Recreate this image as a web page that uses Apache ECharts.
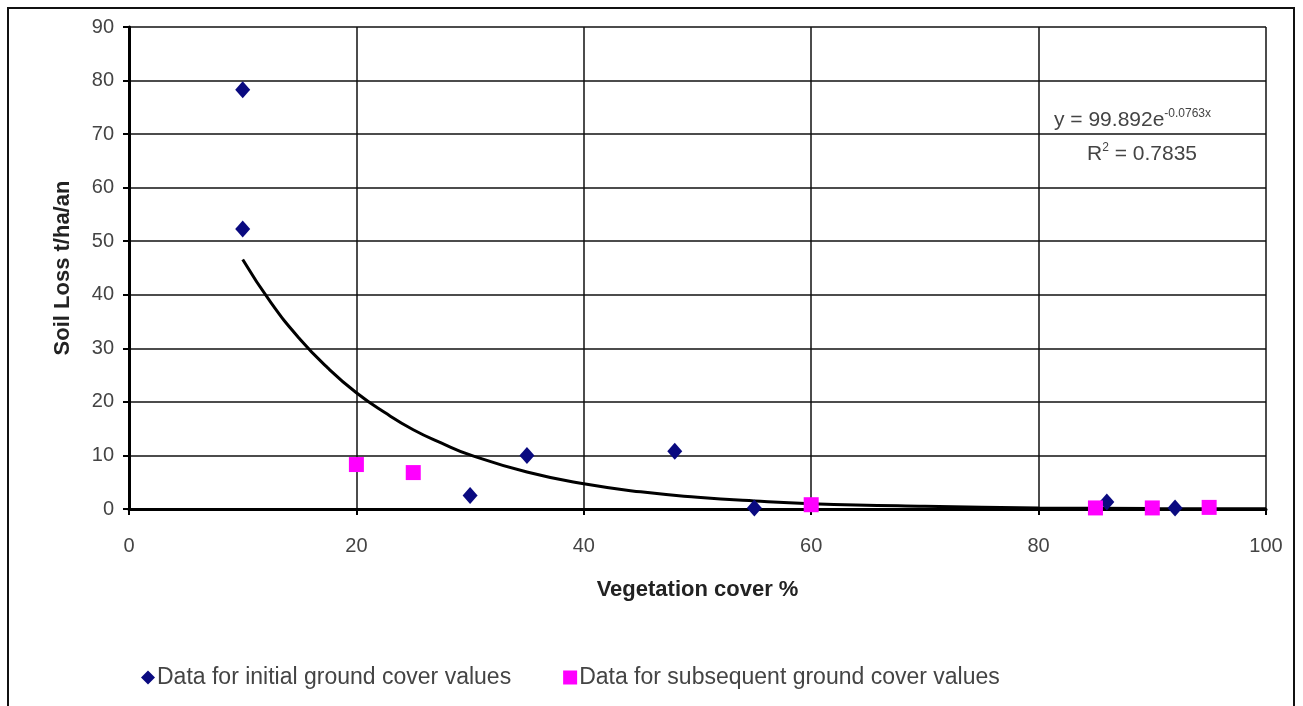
<!DOCTYPE html>
<html>
<head>
<meta charset="utf-8">
<script src="https://cdn.jsdelivr.net/npm/echarts@6/dist/echarts.min.js"></script>
<style>
  * { margin: 0; padding: 0; }
  html, body { width: 100%; height: 100%; background: #fff; }
  #main { width: 1303px; height: 706px; }
</style>
</head>
<body>
<div id="main"></div>
<script>
// values
var initialX = [10, 10, 30, 35, 48, 55, 86, 92];
var initialY = [78.3, 52.3, 2.5, 10, 10.8, 0.2, 1.3, 0.2];
var subsequentX = [20, 25, 60, 85, 90, 95];
var subsequentY = [8.3, 6.8, 0.8, 0.2, 0.2, 0.3];
// exponential trend line
var trendX = [10, 12.5, 15, 17.5, 20, 22.5, 25, 27.5, 30, 35, 40, 45, 50, 55, 60, 70, 80, 90, 100];
var trendY = [46.6, 38.5, 31.8, 26.3, 21.7, 18, 14.8, 12.3, 10.1, 6.9, 4.7, 3.2, 2.2, 1.5, 1.0, 0.5, 0.2, 0.1, 0.05];
var xTicks = [0, 20, 40, 60, 80, 100];
var yTicks = [0, 10, 20, 30, 40, 50, 60, 70, 80, 90];

function pairs(xs, ys) {
    var res = [];
    for (var i = 0; i < xs.length; i++) res.push([xs[i], ys[i]]);
    return res;
}

var myChart = echarts.init(document.getElementById('main'));
var fam = 'Arial, "Liberation Sans", sans-serif';

var option = {
    backgroundColor: '#fff',
    animation: false,
    grid: { left: 129, right: 37, top: 27, bottom: 197, containLabel: false },
    xAxis: {
        type: 'value',
        min: xTicks[0], max: xTicks[xTicks.length - 1], interval: 20,
        name: 'Vegetation cover %',
        nameLocation: 'middle',
        nameGap: 70,
        nameTextStyle: { color: '#222', fontFamily: fam, fontSize: 22, fontWeight: 'bold' },
        axisLine: { lineStyle: { color: '#000', width: 3 } },
        axisTick: { show: true, length: 6, lineStyle: { color: '#000', width: 2 } },
        axisLabel: { color: '#444', fontFamily: fam, fontSize: 20, margin: 27 },
        splitLine: { show: true, lineStyle: { color: '#111', width: 1.5 } }
    },
    yAxis: {
        type: 'value',
        min: yTicks[0], max: yTicks[yTicks.length - 1], interval: 10,
        name: 'Soil Loss t/ha/an',
        nameLocation: 'middle',
        nameGap: 55,
        nameRotate: 90,
        nameTextStyle: { color: '#222', fontFamily: fam, fontSize: 22, fontWeight: 'bold' },
        axisLine: { show: true, lineStyle: { color: '#000', width: 3 } },
        axisTick: { show: true, length: 6, lineStyle: { color: '#000', width: 2 } },
        axisLabel: { color: '#444', fontFamily: fam, fontSize: 20, margin: 15 },
        splitLine: { show: true, lineStyle: { color: '#111', width: 1.5 } }
    },
    legend: {
        left: 136,
        top: 661,
        itemGap: 52,
        itemWidth: 14,
        itemHeight: 14,
        textStyle: { color: '#444', fontFamily: fam, fontSize: 23, padding: [0, 0, 0, -3] },
        data: [
            { name: 'Data for initial ground cover values', icon: 'diamond' },
            { name: 'Data for subsequent ground cover values', icon: 'rect' }
        ]
    },
    series: [
        {
            name: 'Exponential trend',
            type: 'line',
            data: pairs(trendX, trendY),
            smooth: true,
            showSymbol: false,
            lineStyle: { color: '#000', width: 3 },
            z: 3
        },
        {
            name: 'Data for initial ground cover values',
            type: 'scatter',
            symbol: 'diamond',
            symbolSize: [15, 17],
            data: pairs(initialX, initialY),
            itemStyle: { color: '#0a0a80', opacity: 1 },
            z: 4
        },
        {
            name: 'Data for subsequent ground cover values',
            type: 'scatter',
            symbol: 'rect',
            symbolSize: 15,
            data: pairs(subsequentX, subsequentY),
            itemStyle: { color: '#ff00ff', opacity: 1 },
            z: 4
        }
    ],
    graphic: [
        {
            type: 'rect',
            shape: { x: 8, y: 8, width: 1286, height: 710 },
            style: { fill: 'none', stroke: '#111', lineWidth: 2 },
            silent: true
        },
        {
            type: 'text',
            left: 1054,
            top: 108,
            z: 10,
            style: {
                text: 'y = 99.892e{sup|-0.0763x}',
                fill: '#444',
                font: '21px Arial, "Liberation Sans", sans-serif',
                rich: {
                    sup: { fontSize: 12, fill: '#444', padding: [0, 0, 12, 0] }
                }
            }
        },
        {
            type: 'text',
            left: 1087,
            top: 142,
            z: 10,
            style: {
                text: 'R{sup|2} = 0.7835',
                fill: '#444',
                font: '21px Arial, "Liberation Sans", sans-serif',
                rich: {
                    sup: { fontSize: 12, fill: '#444', padding: [0, 0, 12, 0] }
                }
            }
        }
    ]
};

myChart.setOption(option);
</script>
</body>
</html>
